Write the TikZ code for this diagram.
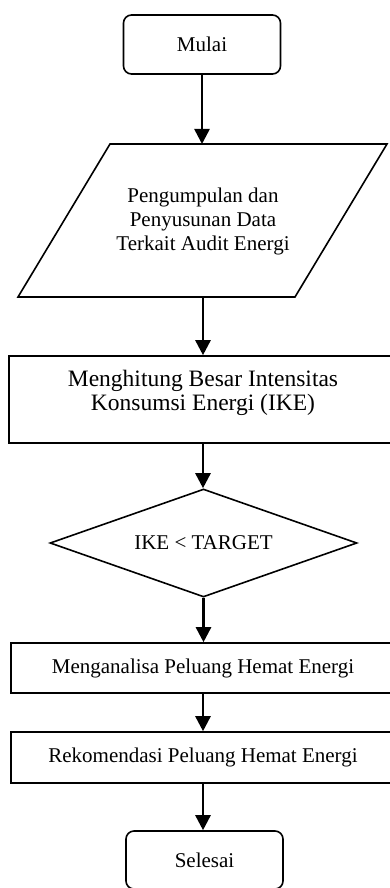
\documentclass[tikz,border=0pt]{standalone}
\usepackage{fontspec}
\setmainfont{Liberation Serif}
\usetikzlibrary{shapes.geometric,arrows.meta}
\begin{document}
\begin{tikzpicture}[x=1pt,y=-1pt,
  box/.style={draw,line width=1.6pt,inner sep=0pt,font=\fontsize{21}{24}\selectfont},
  term/.style={box,rounded corners=8pt},
  txt/.style={inner sep=0pt,align=center,font=\fontsize{21}{24}\selectfont},
  arr/.style={line width=2.6pt,-{Triangle[length=15pt,width=15pt]}}]
\useasboundingbox (0,0) rectangle (390,888);
\node[term,minimum width=157pt,minimum height=59pt] (mulai) at (202,44.5) {Mulai};
% parallelogram
\draw[line width=1.6pt,line join=miter] (110,144) -- (387,144) -- (295,297) -- (18,297) -- cycle;
\coordinate (dataT) at (203,144);
\coordinate (dataB) at (203,297);
\node[txt] (data) at (203,221) {Pengumpulan dan\\Penyusunan Data\\Terkait Audit Energi};
\node[box,minimum width=388pt,minimum height=87pt] (hitung) at (203,399.5) {};
\node[txt,font=\fontsize{23.5}{23.5}\selectfont] (hitungtxt) at (203,393) {Menghitung Besar Intensitas\\Konsumsi Energi (IKE)};
\node[box,diamond,aspect=2.84,minimum width=307pt,minimum height=108pt] (cek) at (203.5,543) {IKE < TARGET};
\node[box,minimum width=384pt,minimum height=50pt] (analisa) at (203,668) {Menganalisa Peluang Hemat Energi};
\node[box,minimum width=384pt,minimum height=51pt] (rekom) at (203,757.5) {Rekomendasi Peluang Hemat Energi};
\node[term,minimum width=157pt,minimum height=58pt] (selesai) at (204.5,860) {Selesai};
\draw[arr] (mulai.south) -- (mulai.south |- dataT);
\draw[arr] (dataB) -- (dataB |- hitung.north);
\draw[arr] (hitung.south) -- (hitung.south |- cek.north);
\draw[arr] (cek.south) -- (cek.south |- analisa.north);
\draw[arr] (analisa.south) -- (analisa.south |- rekom.north);
\draw[arr] (rekom.south) -- (rekom.south |- selesai.north);
\end{tikzpicture}
\end{document}
